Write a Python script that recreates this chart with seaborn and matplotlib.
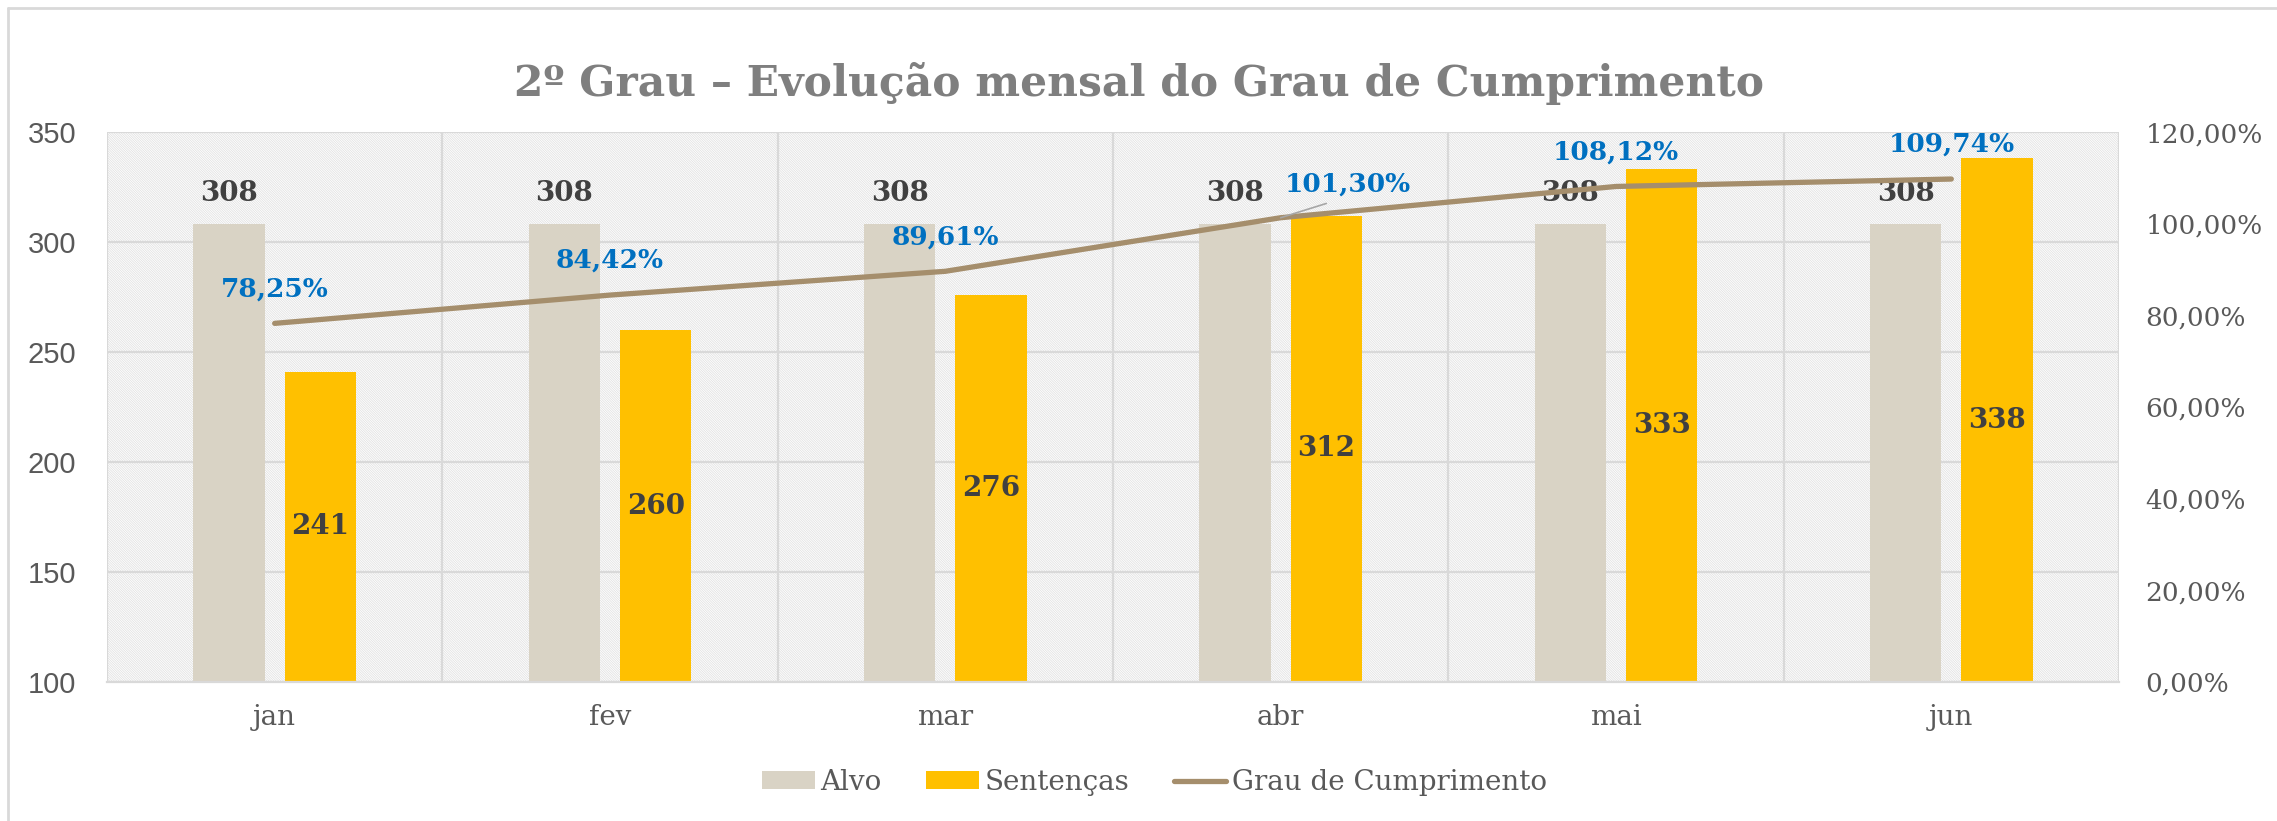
import matplotlib
matplotlib.use("Agg")
import matplotlib.pyplot as plt
import seaborn as sns
import pandas as pd
from matplotlib.patches import Rectangle, Patch
from matplotlib.lines import Line2D
from matplotlib.ticker import FixedLocator, FuncFormatter

# --- data ---
months = ["jan", "fev", "mar", "abr", "mai", "jun"]
alvo = [308, 308, 308, 308, 308, 308]
sentencas = [241, 260, 276, 312, 333, 338]
grau = [78.25, 84.42, 89.61, 101.30, 108.12, 109.74]
series_names = ["Alvo", "Sentenças", "Grau de Cumprimento"]
title = "2º Grau – Evolução mensal do Grau de Cumprimento"

C_ALVO = "#d9d3c5"
C_SENT = "#ffc000"
C_LINE = "#a58e6c"
C_GRID = "#d9d9d9"
C_TICK = "#595959"
C_LABEL = "#404040"
C_PCT = "#0070c0"

SERIF = "DejaVu Serif"
SANS = "Liberation Sans"


def pt_br(v, dec=2):
	return f"{v:.{dec}f}".replace(".", ",")


def main():
	sns.set_style("white")
	plt.rcParams["font.family"] = [SERIF, "DejaVu Sans"]
	plt.rcParams["hatch.linewidth"] = 0.6

	df = pd.DataFrame({
		"mes": months * 2,
		"valor": alvo + sentencas,
		"serie": [series_names[0]] * len(months) + [series_names[1]] * len(months),
	})

	fig = plt.figure(figsize=(22.77, 8.21), dpi=100)
	ax = fig.add_axes([0.047, 0.1693, 0.8836, 0.6699])

	# hatched plot background
	ax.add_patch(Rectangle((0, 0), 1, 1, transform=ax.transAxes, facecolor="white",
		edgecolor="#e2e2e2", hatch="\\" * 14, linewidth=0, zorder=0))

	sns.barplot(data=df, x="mes", y="valor", hue="serie", palette=[C_ALVO, C_SENT],
		width=0.545, gap=0.22, ax=ax, legend=False, zorder=2, saturation=1, linewidth=0)

	ax.set_ylim(100, 350)
	ax.set_xlim(-0.5, len(months) - 0.5)
	ax.set_yticks(range(100, 351, 50))
	ax.xaxis.set_minor_locator(FixedLocator([i - 0.5 for i in range(len(months) + 1)]))
	ax.set_axisbelow(True)
	ax.grid(axis="y", which="major", color=C_GRID, lw=1.6)
	ax.grid(axis="x", which="minor", color=C_GRID, lw=1.6)
	ax.grid(axis="x", which="major", visible=False)
	for s in ["left", "right", "top"]:
		ax.spines[s].set_visible(False)
	ax.spines["bottom"].set_color(C_GRID)
	ax.spines["bottom"].set_linewidth(1.6)
	ax.tick_params(axis="x", which="major", length=0, pad=16, labelsize=20, labelcolor=C_TICK)
	ax.tick_params(axis="x", which="minor", length=8, width=1.6, color=C_GRID, direction="out")
	ax.tick_params(axis="y", length=0, pad=22, labelsize=21, labelcolor=C_TICK)
	for lab in ax.get_yticklabels():
		lab.set_family(SANS)
	ax.set_xlabel("")
	ax.set_ylabel("")

	# bar labels
	n = len(months)
	for i, bar in enumerate(ax.patches[1:1 + 2 * n]):
		xc = bar.get_x() + bar.get_width() / 2
		h = bar.get_height()
		if i < n:
			ax.annotate(f"{h:.0f}", (xc, h), xytext=(0, 22), textcoords="offset points",
				ha="center", va="center", fontsize=20, fontweight="bold", color=C_LABEL, zorder=5)
		else:
			ax.text(xc, (100 + h) / 2, f"{h:.0f}", ha="center", va="center",
				fontsize=20, fontweight="bold", color=C_LABEL, zorder=5)

	# compliance line on secondary axis
	ax2 = ax.twinx()
	sns.lineplot(x=months, y=grau, ax=ax2, color=C_LINE, lw=3.8, sort=False, zorder=3)
	ax2.set_ylim(0, 120)
	ax2.set_yticks(range(0, 121, 20))
	ax2.yaxis.set_major_formatter(FuncFormatter(lambda v, p: pt_br(v) + "%"))
	ax2.tick_params(axis="y", length=0, pad=19, labelsize=19, labelcolor=C_TICK)
	for s in ax2.spines.values():
		s.set_visible(False)
	ax2.set_ylabel("")

	for i, v in enumerate(grau):
		if months[i] == "abr":
			ax2.annotate(pt_br(v) + "%", (i, v), xytext=(48, 24), textcoords="offset points",
				ha="center", va="center", fontsize=19, fontweight="bold", color=C_PCT,
				arrowprops=dict(arrowstyle="-", color="#a6a6a6", lw=1.2, shrinkA=8, shrinkB=0,
				relpos=(0.5, 0)))
		else:
			ax2.annotate(pt_br(v) + "%", (i, v), xytext=(0, 25), textcoords="offset points",
				ha="center", va="center", fontsize=19, fontweight="bold", color=C_PCT)

	ax.set_xlim(-0.5, len(months) - 0.5)

	fig.suptitle(title, x=0.5, y=0.925, fontsize=30.5, fontweight="heavy", color="#7f7f7f")

	handles = [
		Patch(facecolor=C_ALVO, edgecolor="none"),
		Patch(facecolor=C_SENT, edgecolor="none"),
		Line2D([], [], color=C_LINE, lw=3.8),
	]
	fig.legend(handles, series_names, loc="center", bbox_to_anchor=(0.507, 0.047), ncol=3,
		frameon=False, fontsize=20, labelcolor=C_TICK, handlelength=1.9, handleheight=0.6,
		handletextpad=0.2, columnspacing=1.6)

	# chart-area border (top and left edges visible)
	fig.add_artist(Line2D([8 / 2277, 8 / 2277], [0, 1 - 8 / 821], transform=fig.transFigure,
		color=C_GRID, lw=2))
	fig.add_artist(Line2D([8 / 2277, 1], [1 - 8 / 821, 1 - 8 / 821], transform=fig.transFigure,
		color=C_GRID, lw=2))

	fig.savefig("out.png", dpi=100)


if __name__ == "__main__":
	main()
